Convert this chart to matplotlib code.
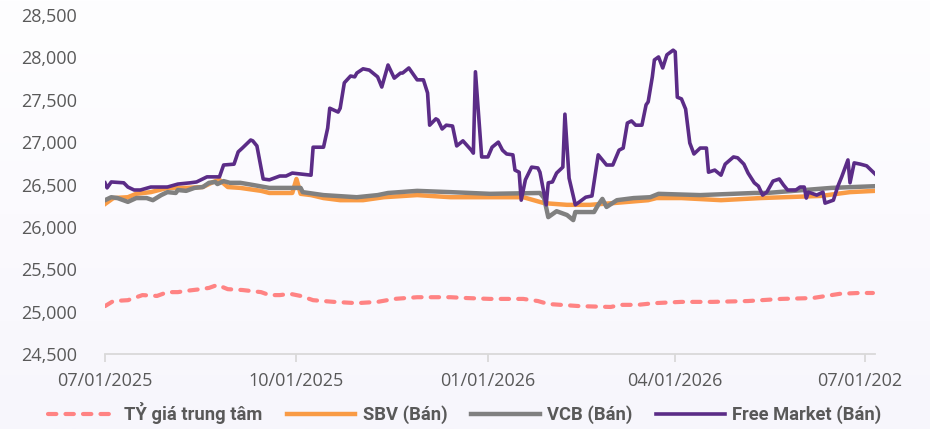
import matplotlib
matplotlib.use('Agg')
import matplotlib.pyplot as plt
import matplotlib.dates as mdates
from matplotlib.ticker import FuncFormatter
from matplotlib.colors import LinearSegmentedColormap
from matplotlib.transforms import Bbox, TransformedBbox
import numpy as np
import pandas as pd

# ---------------- data ----------------
series_names = ['TỶ giá trung tâm', 'SBV (Bán)', 'VCB (Bán)', 'Free Market (Bán)']

central_dates = ['2025-07-01', '2025-07-05', '2025-07-12', '2025-07-19', '2025-07-26', '2025-07-31',
                 '2025-08-05', '2025-08-09', '2025-08-16', '2025-08-20', '2025-08-24', '2025-08-29',
                 '2025-09-05', '2025-09-14', '2025-09-18', '2025-09-23', '2025-09-28', '2025-10-03',
                 '2025-10-09', '2025-10-19', '2025-10-30', '2025-11-09', '2025-11-17', '2025-11-28',
                 '2025-12-14', '2025-12-22', '2026-01-02', '2026-01-18', '2026-01-25', '2026-01-30',
                 '2026-02-14', '2026-03-01', '2026-03-06', '2026-03-14', '2026-03-22', '2026-04-04',
                 '2026-04-19', '2026-05-06', '2026-05-22', '2026-06-06', '2026-06-19', '2026-06-28',
                 '2026-07-05']
central_values = [25065, 25125, 25135, 25195, 25185, 25230,
                  25230, 25245, 25265, 25280, 25315, 25265,
                  25255, 25230, 25195, 25195, 25210, 25185,
                  25135, 25115, 25100, 25115, 25150, 25170,
                  25170, 25160, 25150, 25150, 25125, 25090,
                  25065, 25055, 25080, 25080, 25100, 25115,
                  25115, 25125, 25150, 25160, 25210, 25220,
                  25220]

sbv_dates = ['2025-07-01', '2025-07-05', '2025-07-12', '2025-07-16', '2025-07-23', '2025-07-31',
             '2025-08-09', '2025-08-17', '2025-08-22', '2025-08-25', '2025-08-29', '2025-09-04',
             '2025-09-14', '2025-09-18', '2025-09-29', '2025-10-01', '2025-10-03', '2025-10-08',
             '2025-10-14', '2025-10-22', '2025-11-02', '2025-11-12', '2025-11-28', '2025-12-14',
             '2026-01-02', '2026-01-18', '2026-01-28', '2026-02-08', '2026-02-19', '2026-03-02',
             '2026-03-19', '2026-03-23', '2026-04-04', '2026-04-23', '2026-05-12', '2026-06-10',
             '2026-06-24', '2026-07-06']
sbv_values = [26270, 26340, 26350, 26390, 26410, 26460,
              26460, 26470, 26530, 26555, 26470, 26460,
              26425, 26400, 26400, 26565, 26390, 26375,
              26340, 26315, 26315, 26350, 26375, 26350,
              26350, 26350, 26280, 26260, 26260, 26280,
              26315, 26340, 26340, 26315, 26340, 26365,
              26410, 26425]

vcb_dates = ['2025-07-01', '2025-07-04', '2025-07-07', '2025-07-12', '2025-07-16', '2025-07-21',
             '2025-07-24', '2025-07-28', '2025-07-31', '2025-08-04', '2025-08-05', '2025-08-09',
             '2025-08-13', '2025-08-17', '2025-08-20', '2025-08-23', '2025-08-24', '2025-08-27',
             '2025-08-30', '2025-09-04', '2025-09-10', '2025-09-18', '2025-10-03', '2025-10-04',
             '2025-10-14', '2025-10-30', '2025-11-09', '2025-11-14', '2025-11-28', '2025-12-14',
             '2026-01-02', '2026-01-26', '2026-01-28', '2026-01-30', '2026-02-03', '2026-02-08',
             '2026-02-11', '2026-02-12', '2026-02-21', '2026-02-23', '2026-02-25', '2026-02-27',
             '2026-03-04', '2026-03-12', '2026-03-20', '2026-03-24', '2026-04-13', '2026-05-09',
             '2026-05-15', '2026-06-15', '2026-07-06']
vcb_values = [26315, 26350, 26340, 26295, 26340, 26340,
              26315, 26375, 26410, 26400, 26435, 26425,
              26460, 26470, 26520, 26530, 26505, 26540,
              26520, 26520, 26495, 26460, 26460, 26410,
              26375, 26350, 26375, 26400, 26425, 26410,
              26390, 26400, 26340, 26115, 26185, 26140,
              26080, 26175, 26175, 26260, 26330, 26235,
              26315, 26340, 26350, 26390, 26375, 26400,
              26400, 26460, 26480]

fm_dates = ['2025-07-01', '2025-07-02', '2025-07-04', '2025-07-10', '2025-07-12', '2025-07-15',
            '2025-07-18', '2025-07-23', '2025-07-31', '2025-08-05', '2025-08-11', '2025-08-14',
            '2025-08-19', '2025-08-25', '2025-08-27', '2025-09-01', '2025-09-03', '2025-09-05',
            '2025-09-09', '2025-09-10', '2025-09-12', '2025-09-15', '2025-09-18', '2025-09-23',
            '2025-09-26', '2025-09-29', '2025-10-08', '2025-10-09', '2025-10-14', '2025-10-16',
            '2025-10-17', '2025-10-21', '2025-10-22', '2025-10-24', '2025-10-27', '2025-10-29',
            '2025-10-30', '2025-11-02', '2025-11-05', '2025-11-09', '2025-11-11', '2025-11-14',
            '2025-11-17', '2025-11-20', '2025-11-21', '2025-11-24', '2025-11-27', '2025-11-28',
            '2025-12-01', '2025-12-03', '2025-12-04', '2025-12-07', '2025-12-08', '2025-12-10',
            '2025-12-12', '2025-12-15', '2025-12-17', '2025-12-20', '2025-12-24', '2025-12-25',
            '2025-12-26', '2025-12-29', '2026-01-01', '2026-01-03', '2026-01-06', '2026-01-08',
            '2026-01-10', '2026-01-13', '2026-01-14', '2026-01-16', '2026-01-17', '2026-01-19',
            '2026-01-22', '2026-01-25', '2026-01-26', '2026-01-29', '2026-01-30', '2026-02-01',
            '2026-02-03', '2026-02-06', '2026-02-07', '2026-02-09', '2026-02-12', '2026-02-14',
            '2026-02-17', '2026-02-20', '2026-02-23', '2026-02-25', '2026-02-27', '2026-03-02',
            '2026-03-05', '2026-03-07', '2026-03-09', '2026-03-11', '2026-03-13', '2026-03-16',
            '2026-03-18', '2026-03-19', '2026-03-21', '2026-03-22', '2026-03-24', '2026-03-26',
            '2026-03-28', '2026-03-31', '2026-04-01', '2026-04-02', '2026-04-04', '2026-04-06',
            '2026-04-08', '2026-04-10', '2026-04-13', '2026-04-16', '2026-04-17', '2026-04-20',
            '2026-04-23', '2026-04-25', '2026-04-29', '2026-05-01', '2026-05-04', '2026-05-06',
            '2026-05-09', '2026-05-11', '2026-05-13', '2026-05-15', '2026-05-18', '2026-05-21',
            '2026-05-23', '2026-05-25', '2026-05-29', '2026-05-31', '2026-06-02', '2026-06-03',
            '2026-06-04', '2026-06-08', '2026-06-11', '2026-06-12', '2026-06-16', '2026-06-18',
            '2026-06-20', '2026-06-23', '2026-06-24', '2026-06-26', '2026-06-29', '2026-07-02',
            '2026-07-06']
fm_values = [26520, 26460, 26530, 26520, 26470, 26435,
             26435, 26470, 26470, 26505, 26520, 26530,
             26590, 26590, 26730, 26740, 26885, 26930,
             27025, 27015, 26955, 26565, 26555, 26600,
             26600, 26635, 26610, 26940, 26940, 27165,
             27400, 27355, 27400, 27700, 27780, 27770,
             27815, 27865, 27850, 27770, 27650, 27910,
             27755, 27815, 27815, 27875, 27770, 27735,
             27735, 27580, 27200, 27275, 27260, 27155,
             27200, 27190, 26955, 27015, 26905, 26870,
             27830, 26825, 26825, 26940, 27000, 26905,
             26860, 26850, 26670, 26645, 26315, 26555,
             26705, 26695, 26645, 26260, 26520, 26530,
             26635, 26705, 27330, 26575, 26260, 26295,
             26350, 26365, 26850, 26790, 26730, 26730,
             26905, 26930, 27225, 27250, 27200, 27200,
             27440, 27475, 27770, 27970, 28005, 27875,
             28030, 28085, 28065, 27530, 27510, 27390,
             26990, 26860, 26930, 26930, 26645, 26670,
             26610, 26740, 26825, 26815, 26740, 26635,
             26520, 26480, 26375, 26410, 26540, 26565,
             26495, 26435, 26435, 26470, 26470, 26340,
             26410, 26375, 26410, 26280, 26315, 26470,
             26590, 26790, 26520, 26755, 26740, 26720,
             26625]

tick_dates = ['2025-07-01', '2025-10-01', '2026-01-01', '2026-04-01', '2026-07-01']
tick_labels = ['07/01/2025', '10/01/2025', '01/01/2026', '04/01/2026', '07/01/2026']
y_ticks = [24500, 25000, 25500, 26000, 26500, 27000, 27500, 28000, 28500]

# ---------------- figure ----------------
plt.rcParams['font.family'] = ['Open Sans', 'DejaVu Sans']

W, H = 930, 429
fig = plt.figure(figsize=(W / 100, H / 100), dpi=100)

bg = fig.add_axes([0, 0, 1, 1], zorder=-10)
grad = np.linspace(0, 1, 256).reshape(-1, 1)
cmap = LinearSegmentedColormap.from_list('bg', ['#FEFEFF', '#FBFAFE', '#F7F6FC'])
bg.imshow(grad, aspect='auto', cmap=cmap, extent=[0, 1, 0, 1], origin='upper')
bg.axis('off')

ax = fig.add_axes([105 / W, 1 - 354 / H, 770 / W, 339 / H])
ax.patch.set_alpha(0)

to_dt = pd.to_datetime
l1, = ax.plot(to_dt(central_dates), central_values, color='#FF8383', lw=3.0,
              ls=(0, (2.0, 2.2)), dash_capstyle='round', zorder=2)
l2, = ax.plot(to_dt(sbv_dates), sbv_values, color='#F99B45', lw=3.2, zorder=3,
              solid_joinstyle='round')
l3, = ax.plot(to_dt(vcb_dates), vcb_values, color='#808080', lw=3.2, zorder=4,
              solid_joinstyle='round')
l4, = ax.plot(to_dt(fm_dates), fm_values, color='#5B2C87', lw=2.6, zorder=5,
              solid_joinstyle='round')

ax.set_ylim(24500, 28500)
ax.set_xlim(to_dt('2025-07-01'), to_dt('2026-07-06'))
ax.set_yticks(y_ticks)
ax.yaxis.set_major_formatter(FuncFormatter(lambda v, p: f'{v:,.0f}'))
ax.set_xticks(to_dt(tick_dates))
ax.set_xticklabels(tick_labels)

for s in ['left', 'top', 'right']:
    ax.spines[s].set_visible(False)
ax.spines['bottom'].set_color('#D9D9D9')
ax.spines['bottom'].set_linewidth(1.3)

ax.tick_params(axis='x', length=6, width=1.3, color='#D9D9D9', labelcolor='#595959',
               labelsize=13, pad=7)
ax.tick_params(axis='y', length=0, labelcolor='#595959', labelsize=13, pad=20)

last = ax.xaxis.get_major_ticks()[-1].label1
last.set_clip_box(TransformedBbox(Bbox([[0, 0], [902 / W, 1]]), fig.transFigure))
last.set_clip_on(True)

leg = fig.legend([l1, l2, l3, l4], series_names, loc='center', bbox_to_anchor=(0.5, 1 - 413 / H),
                 ncol=4, frameon=False, handlelength=3.75, handletextpad=0.4, columnspacing=1.3,
                 prop={'family': ['Roboto', 'DejaVu Sans'], 'weight': 'bold', 'size': 13.2})
for t in leg.get_texts():
    t.set_color('#595959')

fig.savefig('out.png', dpi=100)
